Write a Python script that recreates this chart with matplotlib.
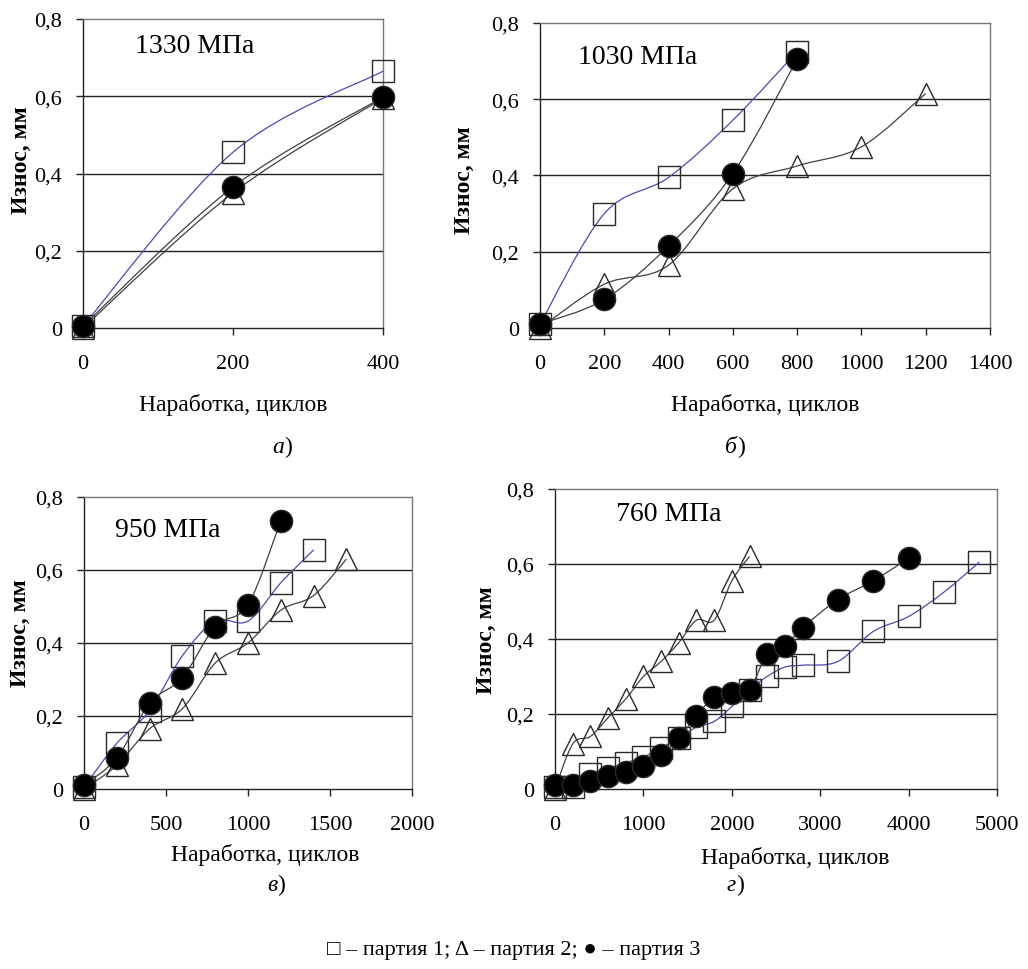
import numpy as np
import matplotlib
matplotlib.use("Agg")
import matplotlib.pyplot as plt
from matplotlib.path import Path
from matplotlib.patches import PathPatch

plt.rcParams['font.family'] = ['Liberation Serif', 'DejaVu Sans']

# ---- data: wear (mm) vs cycles, three batches, four stress levels ----
# а) 1330 MPa
xa = [0, 200, 400]
a_p1 = [0.005, 0.455, 0.665]
a_p2 = [0.0, 0.35, 0.595]
a_p3 = [0.005, 0.365, 0.598]

# б) 1030 MPa
xb1 = [0, 200, 400, 600, 800]
b_p1 = [0.01, 0.30, 0.395, 0.545, 0.725]
xb2 = [0, 200, 400, 600, 800, 1000, 1200]
b_p2 = [0.0, 0.115, 0.165, 0.365, 0.425, 0.475, 0.615]
xb3 = [0, 200, 400, 600, 800]
b_p3 = [0.01, 0.075, 0.215, 0.405, 0.705]

# в) 950 MPa
xc1 = [0, 200, 400, 600, 800, 1000, 1200, 1400]
c_p1 = [0.005, 0.125, 0.215, 0.365, 0.46, 0.46, 0.565, 0.655]
xc2 = [0, 200, 400, 600, 800, 1000, 1200, 1400, 1600]
c_p2 = [0.0, 0.065, 0.165, 0.22, 0.345, 0.40, 0.49, 0.53, 0.63]
xc3 = [0, 200, 400, 600, 800, 1000, 1200]
c_p3 = [0.01, 0.085, 0.235, 0.305, 0.445, 0.505, 0.735]

# г) 760 MPa
xd1 = [0, 200, 400, 600, 800, 1000, 1200, 1400, 1600, 1800, 2000, 2200,
       2400, 2600, 2800, 3200, 3600, 4000, 4400, 4800]
d_p1 = [0.005, 0.005, 0.04, 0.055, 0.07, 0.085, 0.11, 0.135, 0.165, 0.18,
        0.22, 0.265, 0.30, 0.325, 0.33, 0.34, 0.42, 0.46, 0.525, 0.605]
xd2 = [0, 200, 400, 600, 800, 1000, 1200, 1400, 1600, 1800, 2000, 2200]
d_p2 = [0.0, 0.12, 0.14, 0.19, 0.24, 0.30, 0.34, 0.39, 0.45, 0.45, 0.555, 0.62]
xd3 = [0, 200, 400, 600, 800, 1000, 1200, 1400, 1600, 1800, 2000, 2200,
       2400, 2600, 2800, 3200, 3600, 4000]
d_p3 = [0.01, 0.01, 0.02, 0.035, 0.045, 0.06, 0.09, 0.135, 0.195, 0.245,
        0.255, 0.265, 0.36, 0.38, 0.43, 0.505, 0.555, 0.615]

y_ticks = [0, 0.2, 0.4, 0.6, 0.8]
y_ticklabels = ['0', '0,2', '0,4', '0,6', '0,8']
stress_labels = ['1330 МПа', '1030 МПа', '950 МПа', '760 МПа']
panel_letters = ['а', 'б', 'в', 'г']
legend_text = '□ – партия 1; Δ – партия 2; ● – партия 3'


def smooth_path(x, y):
    # Excel-like smoothed line: cubic Bezier through every point
    pts = np.column_stack([x, y]).astype(float)
    n = len(pts)
    verts = [pts[0]]
    codes = [Path.MOVETO]
    for i in range(n - 1):
        p0 = pts[i - 1] if i > 0 else pts[i]
        p1 = pts[i]
        p2 = pts[i + 1]
        p3 = pts[i + 2] if i + 2 < n else pts[i + 1]
        verts += [p1 + (p2 - p0) / 6, p2 - (p3 - p1) / 6, p2]
        codes += [Path.CURVE4] * 3
    return Path(verts, codes)


def draw_series(ax, x, y, marker, line_color, ms, face, z):
    ax.add_patch(PathPatch(smooth_path(x, y), fill=False, edgecolor=line_color,
                           lw=0.9, zorder=z, clip_on=False))
    ax.plot(x, y, linestyle='none', marker=marker, ms=ms, mfc=face,
            mec='#2a2a2a', mew=1.0, zorder=z + 0.5, clip_on=False)


fig = plt.figure(figsize=(10.28, 9.70), dpi=100)

panels = [
    dict(rect=[0.0807, 0.6608, 0.2919, 0.3186], xmax=400, xstep=200,
         s1=(xa, a_p1), s2=(xa, a_p2), s3=(xa, a_p3),
         xlab=(0.5, -0.246), ylab=(-0.205, 0.547), note=(0.173, 0.913)),
    dict(rect=[0.5253, 0.6608, 0.4377, 0.3145], xmax=1400, xstep=200,
         s1=(xb1, b_p1), s2=(xb2, b_p2), s3=(xb3, b_p3),
         xlab=(0.5, -0.249), ylab=(-0.168, 0.489), note=(0.084, 0.889)),
    dict(rect=[0.0817, 0.1856, 0.3191, 0.3010], xmax=2000, xstep=500,
         s1=(xc1, c_p1), s2=(xc2, c_p2), s3=(xc3, c_p3),
         xlab=(0.552, -0.223), ylab=(-0.195, 0.538), note=(0.095, 0.89)),
    dict(rect=[0.5399, 0.1856, 0.4300, 0.3093], xmax=5000, xstep=1000,
         s1=(xd1, d_p1), s2=(xd2, d_p2), s3=(xd3, d_p3),
         xlab=(0.543, -0.227), ylab=(-0.154, 0.5), note=(0.138, 0.917)),
]

for i, p in enumerate(panels):
    ax = fig.add_axes(p['rect'])
    ax.set_xlim(0, p['xmax'])
    ax.set_ylim(0, 0.8)
    ax.set_xticks(np.arange(0, p['xmax'] + 1, p['xstep']))
    ax.set_yticks(y_ticks)
    ax.set_yticklabels(y_ticklabels)
    for yv in y_ticks[1:-1]:
        ax.axhline(yv, color='#222222', lw=1.0, zorder=1)
    for side in ['left', 'bottom']:
        ax.spines[side].set_color('#222222')
    for side in ['top', 'right']:
        ax.spines[side].set_color('#777777')
    for sp in ax.spines.values():
        sp.set_linewidth(1.0)
    ax.tick_params(axis='y', direction='out', length=5, width=1, labelsize=16,
                   pad=10, color='#222222')
    ax.tick_params(axis='x', direction='out', length=5, width=1, labelsize=16,
                   pad=14, color='#222222')

    draw_series(ax, *p['s1'], 's', '#4a4ab0', 16, 'none', 3)
    draw_series(ax, *p['s2'], '^', '#404040', 16, 'none', 4)
    draw_series(ax, *p['s3'], 'o', '#404040', 16, 'black', 5)

    ax.set_xlabel('Наработка, циклов', fontsize=17, va='center')
    ax.xaxis.set_label_coords(*p['xlab'])
    ax.set_ylabel('Износ, мм', fontsize=17, fontweight='bold', va='center')
    ax.yaxis.set_label_coords(*p['ylab'])
    ax.text(p['note'][0], p['note'][1], stress_labels[i], transform=ax.transAxes,
            fontsize=20, ha='left', va='center')

# panel captions: italic letter, upright bracket
caption_pos = [(0.2760, 0.539), (0.7170, 0.539), (0.2700, 0.0876), (0.7160, 0.0876)]
for (cx, cy), letter in zip(caption_pos, panel_letters):
    fig.text(cx, cy, letter, fontsize=17, style='italic', ha='right', va='center')
    fig.text(cx, cy, ')', fontsize=17, ha='left', va='center')

fig.text(0.5, 0.0206, legend_text, fontsize=16, ha='center', va='center')

fig.savefig('out.png', dpi=100)
